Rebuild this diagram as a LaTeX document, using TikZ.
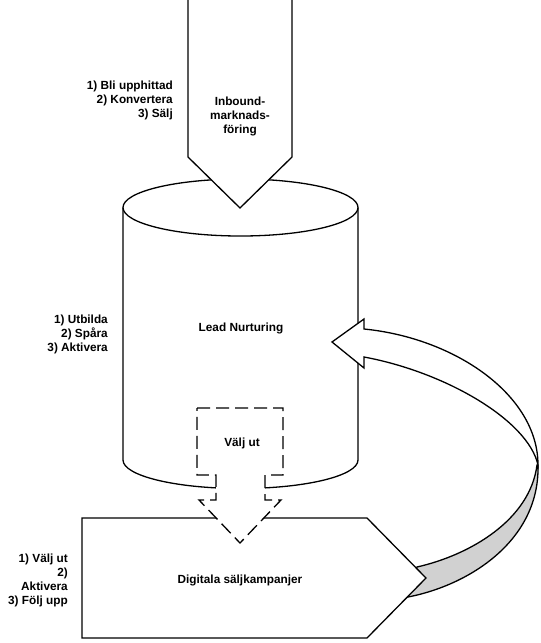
\documentclass[tikz,border=0pt]{standalone}
\usepackage{fontspec}
\setmainfont{Liberation Sans}
\usetikzlibrary{positioning}

\tikzset{
  form/.style={draw,line width=1.3pt,fill=white,line join=miter},
  txt/.style={font=\bfseries\fontsize{11.8}{14}\selectfont,align=center,inner sep=0pt},
  side/.style={txt,align=right,anchor=east}
}

\begin{document}
\begin{tikzpicture}[x=1pt,y=-1pt]
                \useasboundingbox (0,0) rectangle (541,643);
                % cylinder
                \draw[form] (123,207.5) -- (123,460) arc[start angle=180,end angle=0,x radius=117.5,y radius=28.5] -- (358,207.5);
                \draw[form] (240.5,207.5) ellipse[x radius=117.5,y radius=28.5];
                % inbound arrow
                \draw[form] (188,-2) -- (292,-2) -- (292,157) -- (240,208) -- (188,157) -- cycle;
                % curved arrow back to the cylinder
                \draw[form,fill=black!18] (538,465) .. controls (540,540) and (470,585) .. (408,597) -- (417,567) .. controls (470,555) and (530,520) .. (537,465) -- cycle;
                \draw[form] (332,342) -- (364,319) -- (364,329) .. controls (455,338) and (538,395) .. (538,465) .. controls (528,420) and (445,372) .. (364,357) -- (364,368) -- cycle;
                % campaign box
                \draw[form] (82,518) -- (367,518) -- (426,578) -- (367,638) -- (82,638) -- cycle;
                % dashed callout
                \draw[form,dash pattern=on 13pt off 6pt] (197,408) -- (283,408) -- (283,475) -- (265,475) -- (265,500) -- (281,500) -- (240,543) -- (199,500) -- (216,500) -- (216,475) -- (197,475) -- cycle;

                \node[txt] (inbound) at (240,116) {Inbound-\\marknads-\\föring};
                \node[side] (steps1) at (173,100) {1) Bli upphittad\\2) Konvertera\\3) Sälj};
                \node[txt] (nurture) at (241,328) {Lead Nurturing};
                \node[side] (steps2) at (108,334) {1) Utbilda\\2) Spåra\\3) Aktivera};
                \node[txt] (pick) at (242,443) {Välj ut};
                \node[txt] (campaign) at (240,580) {Digitala säljkampanjer};
                \node[side] (steps3) at (68,580) {1) Välj ut\\2)\\Aktivera\\3) Följ upp};
\end{tikzpicture}
\end{document}
